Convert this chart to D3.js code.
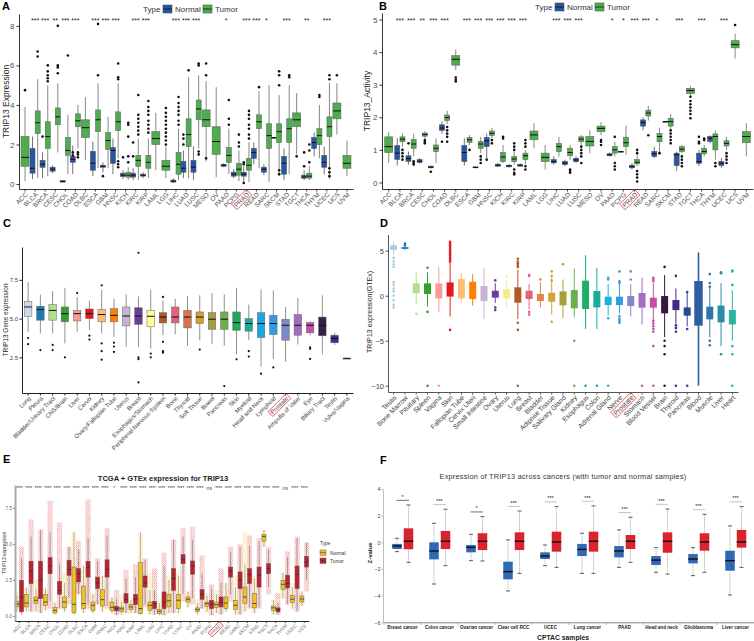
<!DOCTYPE html>
<html lang="en">
<head>
<meta charset="utf-8">
<title>TRIP13 expression panels</title>
<script src="https://d3js.org/d3.v7.min.js"></script>
<style>
body{margin:0;background:#fff;}
</style>
</head>
<body>
<script>
// ---------- data ----------
var tcgaCats = ["ACC","BLCA","BRCA","CESC","CHOL","COAD","DLBC","ESCA","GBM","HNSC","KICH","KIRC","KIRP","LAML","LGG","LIHC","LUAD","LUSC","MESO","OV","PAAD","PCPG","PRAD","READ","SARC","SKCM","STAD","TGCT","THCA","THYM","UCEC","UCS","UVM"];

// panel A: [low whisker, q1, median, q3, high whisker]
var aNormal = [null,[0.25,0.55,0.8,1.8,2.4],[0.3,0.85,1.0,1.2,1.6],[0.55,0.65,0.75,0.85,0.95],[0.08,0.1,0.13,0.17,0.2],[0.5,1.1,1.25,1.4,1.95],null,[0.4,0.7,1.05,1.65,2.15],[0.6,0.85,0.9,0.95,1.1],[0.5,1.05,1.7,1.85,2.3],[0.25,0.38,0.45,0.55,0.7],[0.2,0.35,0.45,0.55,0.8],[0.3,0.4,0.45,0.5,0.6],null,null,[0.05,0.1,0.15,0.2,0.3],[0.3,0.6,0.8,1.15,1.7],[0.2,0.6,0.85,1.2,1.9],null,null,[0.85,0.9,0.95,1.0,1.05],[0.3,0.4,0.5,0.6,0.75],[0.1,0.4,0.5,0.6,0.9],[1.0,1.3,1.6,1.8,2.1],[0.45,0.6,0.75,0.85,1.0],[2.35,2.35,2.35,2.35,2.35],[0.2,0.5,1.05,1.4,1.8],null,[0.2,0.3,0.35,0.45,0.7],[1.4,1.8,2.1,2.35,2.6],[0.5,0.85,1.1,1.45,1.9],null,null];
var aTumor = [[0.15,0.9,1.35,2.4,3.9],[0.3,2.55,3.1,3.7,5.3],[0.4,1.8,2.4,3.15,5.0],[1.6,3.0,3.4,3.85,5.1],[0.5,1.45,1.7,2.35,3.5],[1.8,2.9,3.2,3.55,4.0],[1.2,2.35,2.85,3.25,4.4],[0.8,2.65,3.25,3.75,5.1],[0.8,1.75,2.2,2.6,3.4],[1.3,2.7,3.15,3.65,5.1],[0.2,0.35,0.45,0.6,0.85],[0.2,0.9,1.2,1.45,2.3],[0.3,0.8,1.1,1.45,2.3],[0.7,2.0,2.3,2.65,3.6],[0.3,0.7,0.9,1.2,1.9],[0.2,0.5,1.0,1.6,2.8],[0.3,1.9,2.5,3.3,5.4],[1.8,3.25,3.8,4.25,5.5],[1.15,2.9,3.25,3.75,5.2],[0.35,1.5,2.15,2.9,4.9],[0.5,1.1,1.45,1.85,2.8],[0.15,0.45,0.75,1.05,1.7],[0.1,0.7,0.95,1.3,2.1],[0.8,2.8,3.15,3.5,4.7],[0.1,1.8,2.45,3.05,5.0],[0.4,2.1,2.65,3.05,4.5],[0.5,2.1,2.8,3.3,5.0],[1.5,2.9,3.25,3.6,4.6],[0.2,0.3,0.4,0.55,0.9],[1.3,2.0,2.45,2.8,4.0],[0.25,2.4,2.9,3.4,5.1],[2.5,3.3,3.7,4.1,5.1],[0.4,0.8,1.05,1.45,2.2]];
var aNormalOut = [[],[],[2.4],[],[],[1.45,1.6],[],[],[0.4],[],[1.35],[1.4,2.1],[],[],[],[],[2.0,2.3,2.5],[],[],[],[],[],[0.05,1.0,1.1],[],[],[],[],[],[0.9,1.6],[],[],[],[]];
var aTumorOut = [[4.75],[6.45,6.7],[5.2,5.35,5.5,5.7,6.0],[5.6,5.9,6.0,8.0],[6.5],[1.35,1.5,1.6],[],[5.5,8.1],[],[0.85,1.0,1.15,5.3,5.4,6.1],[1.1,1.4,2.4,3.0,3.1],[2.5,2.7,2.9,3.1,3.3,3.5,4.5],[2.6,2.8,3.0,3.2,3.5,3.7,3.9,4.2],[],[2.0,2.2,2.4,2.6,2.8,3.0,3.2,3.4,3.6,3.85],[3.0,3.2,3.5,3.7,3.9,4.1,4.4],[5.75],[1.5,1.65,6.0,6.1],[1.3,5.5,6.1],[],[3.0,3.3,4.25],[1.9,2.1,2.5],[2.3,2.5,2.8,3.0,3.3,3.5,3.7],[4.9],[],[0.5,0.7,5.0,5.5,5.7],[5.4,5.5],[1.4],[1.1,1.7,2.0],[4.4,4.5],[0.4,0.6,0.8,5.3,5.5],[5.5],[]];
var aSig = ["","***","***","**","***","***","","***","***","***","","***","***","","","***","***","***","","","*","","***","***","*","","***","","**","","***","",""];

// panel B
var bNormal = [null,[0.52,0.71,0.9,1.13,1.36],[0.55,0.65,0.73,0.82,0.95],[0.58,0.62,0.65,0.7,0.75],[0.43,0.45,0.47,0.5,0.52],[1.5,1.6,1.67,1.77,1.87],null,[0.52,0.64,0.92,1.13,1.36],[0.44,0.45,0.46,0.48,0.5],[0.75,1.1,1.28,1.38,1.5],[0.48,0.5,0.53,0.56,0.6],[0.46,0.48,0.51,0.53,0.56],[0.48,0.5,0.53,0.55,0.58],null,null,[0.55,0.6,0.64,0.7,0.8],[0.5,0.55,0.59,0.65,0.7],[0.6,0.64,0.69,0.74,0.8],null,null,[0.8,0.82,0.85,0.88,0.92],[0.95,0.95,0.95,0.95,0.95],[0.4,0.45,0.49,0.53,0.6],[1.6,1.73,1.84,1.92,2.0],[0.75,0.8,0.88,0.95,1.1],[1.87,1.87,1.87,1.87,1.87],[0.35,0.52,0.85,0.9,0.95],null,[0.5,0.59,0.64,0.9,1.0],[1.2,1.26,1.36,1.41,1.45],[0.45,0.52,0.59,0.65,0.75],null,null];
var bTumor = [[0.6,0.92,1.1,1.4,1.56],[1.1,1.25,1.33,1.4,1.5],[0.8,1.05,1.18,1.32,1.5],[1.35,1.42,1.47,1.52,1.57],[0.6,0.95,1.05,1.15,1.35],[1.8,1.9,1.99,2.07,2.2],[3.45,3.6,3.78,3.89,4.08],[1.15,1.23,1.31,1.38,1.45],[0.9,1.05,1.18,1.26,1.4],[1.35,1.44,1.51,1.58,1.68],[0.6,0.64,0.78,0.92,1.15],[0.55,0.64,0.72,0.8,0.95],[0.55,0.7,0.82,0.9,1.0],[1.05,1.31,1.46,1.58,1.82],[0.4,0.64,0.77,0.9,1.15],[0.8,0.95,1.1,1.2,1.4],[0.7,0.82,0.92,1.05,1.15],[1.15,1.25,1.33,1.4,1.45],[0.9,1.12,1.26,1.41,1.6],[1.45,1.56,1.66,1.73,1.85],[0.8,0.9,1.0,1.1,1.25],[0.85,1.1,1.22,1.39,1.75],[0.5,0.57,0.62,0.7,0.85],[1.9,2.04,2.13,2.22,2.35],[0.85,1.25,1.41,1.5,1.68],[1.55,1.73,1.87,1.97,2.1],[0.9,0.95,1.02,1.1,1.15],[2.65,2.73,2.82,2.89,2.97],[0.8,0.88,0.95,1.05,1.15],[0.7,1.0,1.41,1.49,1.6],[1.0,1.12,1.2,1.28,1.4],[3.8,4.13,4.23,4.35,4.57],[0.8,1.22,1.41,1.56,1.82]];
var bNormalOut = [[],[],[1.2],[],[0.33],[1.25],[],[],[],[0.7],[],[],[],[],[],[],[],[],[],[],[],[],[],[],[],[],[],[],[1.2,1.25,1.4],[],[],[],[]];
var bTumorOut = [[],[0.7,0.8,0.9,1.0],[0.55,0.6,0.65],[1.2,1.25,1.3],[],[1.25,1.4,1.5,1.6,1.7],[3.1,3.15,3.22],[1.0],[0.6,0.7,0.8],[1.2,1.3],[1.35,1.4],[0.25,0.3,0.4,1.0,1.1,1.2],[0.4,0.5,1.1,1.2,1.3],[],[],[],[0.3,0.35,0.4],[0.6,0.8,0.9,1.0,1.1],[],[1.15,1.25,1.3],[0.4,0.5,0.6,1.4],[],[0.03,0.15,0.25,0.35,0.9,1.0],[1.45],[0.9],[1.2,1.3,1.4,1.5,1.6],[0.5,0.6,0.7,0.8],[1.97,2.1,2.2,2.3,2.4,2.5,2.63],[1.3,1.35],[0.5,0.6],[0.6,0.7,0.8,0.9],[4.83],[]];
var bSig = ["","***","***","**","***","***","","***","***","***","***","***","***","","","***","***","***","","","*","*","***","***","*","","***","","***","","***","",""];

// panel C (cell lines)
var cCats = ["Lung","Pleura","Bladder/Urinary Tract","CNS/Brain","Liver","Cervix","Kidney","Ovary/Fallopian Tube","Uterus","Breast","Esophagus/Stomach","Peripheral Nervous System","Bone","Thyroid","Soft Tissue","Bowel","Pancreas","Skin","Myeloid","Head and Neck","Lymphoid","Prostate","Ampulla of Vater","Eye","Biliary Tract","Testis","Vulva/Vagina"];
var cStats = [[4.15,5.15,5.75,6.1,7.35],[4.04,4.9,5.58,5.8,6.54],[4.04,4.9,5.53,5.9,6.77],[3.4,4.79,5.32,5.75,6.99],[4.15,4.85,5.32,5.53,6.39],[4.25,5.0,5.32,5.62,6.17],[4.04,4.79,5.26,5.6,6.86],[3.83,4.79,5.21,5.64,6.28],[3.18,4.53,5.17,5.75,6.56],[3.18,4.63,5.17,5.7,6.43],[3.07,4.47,5.15,5.53,6.86],[3.93,4.72,5.1,5.38,6.17],[4.0,4.72,5.1,5.75,6.28],[3.25,4.4,5.1,5.53,6.45],[3.6,4.68,5.1,5.43,6.5],[3.35,4.31,4.96,5.38,6.65],[3.25,4.31,4.96,5.43,6.56],[2.7,4.25,4.74,5.43,6.99],[3.6,4.19,4.68,5.0,5.9],[1.9,3.78,4.68,5.38,6.88],[2.4,3.97,4.68,5.21,6.82],[2.22,3.61,4.57,4.96,5.75],[3.33,3.93,4.57,5.26,6.32],[3.93,4.08,4.57,4.74,4.85],[2.69,3.89,4.57,5.1,6.5],[3.3,3.44,3.72,3.93,4.08],[2.44,2.44,2.44,2.44,2.44]];
var cOut = [[3.75,3.35],[2.97],[3.3,2.97],[2.5],[6.65],[3.9,3.65],[7.15,3.4,2.9,2.35],[3.45,3.2,2.85],[],[9.25,2.5,2.38,0.88],[2.75,2.5],[6.4,3.5,2.9,2.8],[],[],[3.0],[],[0.65],[2.37],[2.9,2.55],[1.45],[1.85],[],[],[3.15,3.05,2.4],[],[],[]];
var cPalette = ["#c6dbef","#1f78b4","#b2df8a","#33a02c","#fb9a99","#e31a1c","#fdbf6f","#ff7f00","#cab2d6","#6a3d9a","#ffff99","#b15928","#e5607a","#d9734a","#d4a03a","#a0a040","#6ab04c","#23a75a","#19ac9b","#1ea7de","#2f9de0","#7e88c9","#a36cc0","#c94ba8","#38204a","#3d2f8a","#3d2f8a"];

// panel D (GTEx)
var dCats = ["Testis","Bone Marrow","Pituitary","Spleen","Vagina","Skin","Fallopian Tube","Cervix Uteri","Small Intestine","Ovary","Uterus","Lung","Breast","Bladder","Adipose Tissue","Salivary Gland","Kidney","Esophagus","Colon","Adrenal Gland","Nerve","Prostate","Stomach","Blood Vessel","Brain","Thyroid","Pancreas","Blood","Muscle","Liver","Heart"];
var dStats = [[4.6,5.1,5.35,5.6,6.0],[5.1,5.2,5.3,5.4,5.5],[-1.0,0.26,0.8,1.37,2.6],[-1.2,0.19,0.9,1.37,2.6],[-1.8,-0.3,0.9,1.37,3.2],[-2.3,-0.1,0.8,1.48,3.7],[-0.8,-0.3,0.9,1.85,2.5],[-1.1,-0.37,0.4,1.55,2.4],[-2.6,-0.6,0.1,1.07,3.1],[-0.8,-0.22,0.2,0.55,1.4],[-1.3,-0.3,0.1,0.7,1.6],[-2.6,-0.78,0.1,0.93,2.9],[-1.5,-0.37,0.1,0.55,1.3],[-1.3,-0.6,-0.1,0.19,1.5],[-2.1,-0.67,-0.1,0.33,2.0],[-2.5,-1.07,-0.1,0.48,1.8],[-2.4,-1.4,-0.2,0.63,3.0],[-3.7,-1.48,-0.2,1.67,4.5],[-3.7,-1.3,-0.2,0.52,3.1],[-2.2,-1.04,-0.5,-0.11,1.3],[-2.0,-1.04,-0.5,-0.11,1.3],[-2.3,-1.15,-0.4,-0.04,1.3],[-3.2,-1.33,-0.5,0.3,2.0],[-3.0,-1.33,-0.6,-0.22,1.4],[-4.6,-1.96,-0.8,-0.04,2.3],[-3.1,-1.6,-1.0,-0.48,0.8],[-3.4,-2.22,-1.7,-1.3,0.3],[-10,-3.33,-0.5,1.63,4.8],[-4.6,-2.63,-1.8,-1.22,1.0],[-5.6,-2.96,-2.0,-1.1,1.4],[-5.0,-3.19,-2.3,-1.59,0.6]];
var dOut = [[4.2,3.8,3.5,3.2,1.5,1.2,0.8,0.5,0.0,-0.5,-1.0,-1.3],[5.6,5.8],[-2.0],[3.1,-1.8,-10],[-10],[3.8,4.0,4.2,4.4,4.6,4.8,5.0,5.2,5.4,5.6,5.8,6.0,-3.8],[],[],[],[1.7,-1.3,-1.6],[2.1],[3.2,3.4,3.6,3.8,4.1,-3.0,-3.8,-10],[2.2,2.3,-1.8,-2.1],[1.8],[2.7,2.2,1.7,-2.9],[3.5],[-5.0,-10],[-10],[-10],[2.0,1.8,-2.5,-10],[2.7,1.6,1.4,-2.3,-2.6,-2.8,-3.0],[2.7,1.8],[-10],[1.6,1.8,2.0,-2.8,-3.1,-3.4,-3.7,-4.0,-5.6,-10],[3.2,-5.0,-5.6,-6.5,-10],[2.2,-3.3,-3.6,-4.0,-10],[0.4,-3.7,-10],[],[2.4,1.4,1.0,-5.0,-5.5],[2.6,2.5,-6.5],[2.8,2.7,1.2,-5.6,-6.5,-10]];
var dPalette = ["#a6cee3","#1f78b4","#b2df8a","#33a02c","#fb9a99","#e31a1c","#fdbf6f","#ff7f00","#cab2d6","#6a3d9a","#f7ec8a","#b15928","#e5607a","#e0854a","#d4a23a","#a3a23a","#6bb04b","#1fae6a","#16ad9d","#1ab2d8","#2f9de0","#7e88c9","#a56cbf","#c84ea0","#35193e","#3c2e86","#2c4696","#2f5f9e","#2f76a8","#2a8caa","#2ab3a2"];

// panel E (TCGA + GTEx)
var eCats = ["ACC","BLCA","BRCA","CESC","CHOL","COAD","DLBC","ESCA","GBM","HNSC","KICH","KIRC","KIRP","LAML","LGG","LIHC","LUAD","LUSC","OV","PAAD","PCPG","PRAD","READ","SARC","SKCM","STAD","TGCT","THCA","THYM","UCEC","UCS"];
var eNormal = [[0.28,0.63,0.83,1.02,1.43],[0.3,0.63,0.9,1.5,2.0],[0.3,0.86,1.09,1.32,1.9],[0.4,0.74,0.97,1.48,1.9],[0.1,0.21,0.39,0.58,0.9],[0.3,0.56,0.97,1.32,2.3],[0.1,0.23,0.81,3.4,5.83],[0.2,0.51,0.86,2.08,3.5],[0.2,0.39,0.74,0.97,1.5],[0.3,0.69,1.13,1.83,2.8],[0.2,0.39,0.6,0.97,1.3],[0.1,0.32,0.49,0.62,1.0],[0.2,0.44,0.63,0.79,1.1],[0.1,0.16,0.51,3.7,5.8],[0.1,0.39,0.74,0.97,1.8],[0.05,0.16,0.32,0.46,0.9],[0.2,0.63,1.06,1.48,2.5],[0.2,0.51,1.09,1.48,2.8],[0.6,0.97,1.16,1.32,1.7],[0.1,0.32,0.44,0.56,0.9],[0.3,0.67,0.86,0.97,1.4],[0.2,0.58,0.79,0.97,1.5],[0.3,0.51,0.9,1.32,2.3],[0.1,0.44,0.74,1.09,2.0],[0.3,0.86,1.32,2.01,3.6],[0.2,0.56,0.86,1.55,2.6],[4.8,5.2,5.53,5.67,6.0],[0.1,0.39,0.56,0.69,1.1],[1.2,1.83,2.2,2.48,3.0],[0.5,0.93,1.16,1.43,2.0],[0.7,0.97,1.18,1.39,1.7]];
var eTumor = [[0.1,0.3,1.3,2.48,4.0],[0.3,2.25,3.12,3.8,5.5],[0.2,1.2,2.48,3.8,6.0],[1.0,2.94,3.47,4.05,5.8],[0.5,1.5,1.78,2.4,3.6],[1.3,2.82,3.22,3.87,4.8],[1.5,2.36,2.94,3.29,4.6],[0.8,2.7,3.4,3.8,5.4],[0.8,1.9,2.31,2.7,3.8],[0.7,2.7,3.24,3.9,5.6],[0.05,0.35,0.51,0.67,1.2],[0.2,0.9,1.16,1.55,2.6],[0.2,0.79,1.16,1.5,2.7],[0.8,2.0,2.31,2.78,3.9],[0.1,0.51,0.86,1.02,1.8],[0.05,0.51,0.97,1.67,3.5],[0.2,1.78,2.6,3.29,5.3],[1.5,3.63,3.91,4.26,5.5],[1.2,2.9,3.47,3.82,5.3],[0.5,1.16,1.5,1.83,2.9],[0.05,0.51,0.81,1.09,1.9],[0.1,0.63,0.97,1.32,2.3],[1.5,2.7,3.12,3.4,4.4],[0.1,1.9,2.48,3.06,4.8],[0.6,2.25,2.87,3.29,4.9],[0.6,2.01,2.82,3.4,5.2],[2.0,2.94,3.29,3.63,4.6],[0.1,0.28,0.44,0.56,0.9],[0.8,1.94,2.25,2.82,4.1],[0.3,1.9,2.89,3.47,5.4],[2.5,3.4,3.75,4.14,5.1]];
// extent of the jittered sample points [min, max]
var eNormalPts = [[0.4,1.7],[0.4,1.9],[0.3,2.6],[0.4,1.9],[0.1,1.0],[0.3,3.0],[0.1,5.8],[0.2,3.5],[0.2,1.6],[0.3,2.8],[0.2,1.3],[0.1,1.5],[0.2,1.3],[0.1,5.8],[0.1,3.0],[0.05,1.2],[0.2,2.8],[0.2,3.0],[0.6,1.7],[0.1,1.2],[0.2,1.6],[0.2,1.8],[0.3,2.3],[0.1,2.8],[0.3,5.9],[0.2,2.8],[4.8,6.0],[0.1,1.2],[1.2,3.0],[0.5,2.3],[0.7,1.7]];
var eTumorPts = [[0.2,4.8],[0.3,6.7],[0.2,6.0],[0.5,8.0],[0.5,6.5],[0.8,4.8],[1.5,5.2],[0.5,8.1],[0.8,4.0],[0.5,6.1],[0.05,1.8],[0.2,3.2],[0.2,3.6],[0.6,4.0],[0.1,3.3],[0.05,4.4],[0.2,5.3],[1.0,6.1],[0.8,6.2],[0.5,4.2],[0.05,2.2],[0.1,3.3],[1.0,4.8],[0.1,5.0],[0.5,5.6],[0.5,5.4],[1.5,4.8],[0.1,1.6],[0.8,4.5],[0.3,5.5],[1.7,5.1]];
var eSig = ["****","****","****","****","****","****","****","****","****","****","*","****","****","****","****","****","****","****","****","****","ns","****","****","****","****","****","****","****","ns","****","****"];

// panel F (CPTAC)
var fCats = ["Breast cancer","Colon cancer","Ovarian cancer","Clear cell RCC","UCEC","Lung cancer","PAAD","Head and neck","Glioblastoma","Liver cancer"];
var fNormal = [[-0.7,-0.5,-0.28,-0.12,0.3],[-3.13,-1.28,-0.65,0.0,1.43],[-1.38,-0.75,-0.38,-0.2,0.6],[-3.65,-2.78,-2.2,-1.45,0.18],[-1.75,-1.25,-1.03,-0.75,-0.2],[-2.33,-1.03,-0.53,-0.12,0.68],[-1.88,-1.13,-0.65,-0.28,0.93],[-2.25,-1.7,-1.33,-1.03,-0.4],[-2.5,-1.58,-1.25,-0.88,-0.4],[-3.95,-2.13,-1.38,-0.63,1.23]];
var fTumor = [[-1.5,-0.52,0.08,1.05,2.8],[-1.75,-0.5,0.08,0.85,2.48],[-1.4,-0.58,0.08,0.68,1.93],[-2.33,-0.58,0.08,0.75,2.35],[-1.88,-0.7,0.03,0.8,2.68],[-2.33,-0.7,0.08,0.8,2.73],[-1.5,-0.5,0.08,0.55,1.88],[-2.38,-0.78,0.08,0.75,2.5],[-2.25,-0.63,0.03,0.68,2.1],[-1.88,-0.4,0.03,0.93,2.68]];
var fSig = ["*","***","*","***","***","***","***","***","***","***"];

// ---------- drawing ----------
var FONT = "Liberation Sans, Arial, Helvetica, sans-serif";
var svg = d3.select("body").append("svg")
	.attr("width", 754).attr("height", 641)
	.attr("font-family", FONT);
var defs = svg.append("defs");

function panelLetter(x, y, t) {
	svg.append("text").attr("x", x).attr("y", y)
		.attr("font-size", 11).attr("font-weight", "bold").text(t);
}

function styleAxis(g, fs, col, lineCol) {
	g.attr("font-family", FONT).attr("font-size", fs);
	g.selectAll("text").attr("fill", col);
	g.selectAll("line").attr("stroke", lineCol);
	g.select(".domain").attr("stroke", lineCol);
}

// rotate tick labels and draw a red frame round one of them
function rotLabels(g, hl) {
	g.selectAll(".tick text")
		.attr("text-anchor", "end")
		.attr("x", -2).attr("y", 2).attr("dy", "0.7em")
		.attr("transform", "rotate(-45)");
	if (hl) {
		g.selectAll(".tick").filter(function(d) { return d === hl; }).each(function() {
			var b = d3.select(this).select("text").node().getBBox();
			d3.select(this).insert("rect", "text")
				.attr("x", b.x - 1.2).attr("y", b.y - 0.4)
				.attr("width", b.width + 2.4).attr("height", b.height + 0.8)
				.attr("fill", "none").attr("stroke", "#e8383d").attr("stroke-width", 0.8)
				.attr("transform", "rotate(-45)");
		});
	}
}

function drawBox(g, cx, w, s, y, st) {
	if (!s) return;
	g.append("line")
		.attr("x1", cx).attr("x2", cx).attr("y1", y(s[0])).attr("y2", y(s[4]))
		.attr("stroke", st.whisker).attr("stroke-width", st.ww || 0.7)
		.attr("stroke-dasharray", st.dash || null);
	if (st.cap) {
		[s[0], s[4]].forEach(function(v) {
			g.append("line").attr("x1", cx - st.cap / 2).attr("x2", cx + st.cap / 2)
				.attr("y1", y(v)).attr("y2", y(v)).attr("stroke", "#333").attr("stroke-width", 0.8);
		});
	}
	g.append("rect")
		.attr("x", cx - w / 2).attr("y", y(s[3]))
		.attr("width", w).attr("height", Math.max(0.8, y(s[1]) - y(s[3])))
		.attr("fill", st.fill).attr("stroke", st.stroke || "none").attr("stroke-width", st.sw || 0.6);
	if (st.median) {
		g.append("line").attr("x1", cx - w / 2).attr("x2", cx + w / 2)
			.attr("y1", y(s[2])).attr("y2", y(s[2]))
			.attr("stroke", st.median).attr("stroke-width", st.mw || 1);
	}
}

function drawOut(g, cx, vals, y, col, r) {
	vals.forEach(function(v) {
		g.append("circle").attr("cx", cx).attr("cy", y(v)).attr("r", r).attr("fill", col);
	});
}

function legendType(x, y) {
	var g = svg.append("g").attr("transform", "translate(" + x + "," + y + ")").attr("font-size", 8);
	g.append("text").attr("x", 0).attr("y", 3).attr("fill", "#333").text("Type");
	[["Normal", "#2356a6", 20], ["Tumor", "#4cae4c", 60]].forEach(function(d) {
		g.append("rect").attr("x", d[2]).attr("y", -4).attr("width", 9).attr("height", 8)
			.attr("fill", d[1]).attr("stroke", "#555").attr("stroke-width", 0.6);
		g.append("line").attr("x1", d[2]).attr("x2", d[2] + 9).attr("y1", 0).attr("y2", 0)
			.attr("stroke", "#111").attr("stroke-width", 0.8);
		g.append("text").attr("x", d[2] + 12).attr("y", 3).attr("fill", "#333").text(d[0]);
	});
}

// ----- A and B : TCGA paired boxplots -----
function tcgaPanel(x0, x1, yScale, yTicks, nArr, tArr, nOut, tOut, sig, ylab, ylabX) {
	var g = svg.append("g");
	var x = d3.scaleBand().domain(tcgaCats).range([x0, x1]).paddingOuter(0.1).paddingInner(0);
	var yBot = yScale.range()[0];

	var ax = g.append("g").attr("transform", "translate(0," + yBot + ")")
		.call(d3.axisBottom(x).tickSize(2.5).tickSizeOuter(0));
	styleAxis(ax, 6.5, "#4d4d4d", "#333");
	rotLabels(ax, "PRAD");

	var ay = g.append("g").attr("transform", "translate(" + x0 + ",0)")
		.call(d3.axisLeft(yScale).tickValues(yTicks).tickFormat(d3.format("d")).tickSize(2.5).tickSizeOuter(0).tickPadding(2));
	styleAxis(ay, 8, "#4d4d4d", "#333");

	g.append("text").attr("transform", "translate(" + ylabX + "," + ((yBot + yScale.range()[1]) / 2) + ") rotate(-90)")
		.attr("text-anchor", "middle").attr("font-size", 8.5).attr("fill", "#222").text(ylab);

	var nSt = {fill: "#2356a6", stroke: "#555", whisker: "#333", median: "#111", mw: 1};
	var tSt = {fill: "#4cae4c", stroke: "#666", whisker: "#555", median: "#111", mw: 1};
	tcgaCats.forEach(function(c, i) {
		var cx = x(c) + x.bandwidth() / 2;
		if (nArr[i]) {
			drawBox(g, cx - 2.6, 5, nArr[i], yScale, nSt);
			drawOut(g, cx - 2.6, nOut[i], yScale, "#111", 1.3);
			drawBox(g, cx + 2.6, 5, tArr[i], yScale, tSt);
			drawOut(g, cx + 2.6, tOut[i], yScale, "#111", 1.3);
		} else {
			drawBox(g, cx, 8, tArr[i], yScale, tSt);
			drawOut(g, cx, tOut[i], yScale, "#111", 1.3);
		}
		if (sig[i]) {
			g.append("text").attr("x", cx).attr("y", 23).attr("text-anchor", "middle")
				.attr("font-size", 7).attr("fill", "#222").text(sig[i]);
		}
	});
}

tcgaPanel(19, 353, d3.scaleLinear().domain([-0.25, 8.6]).range([189, 14]), [0, 2, 4, 6, 8],
	aNormal, aTumor, aNormalOut, aTumorOut, aSig, "TRIP13 Expression", 9);
tcgaPanel(382, 753, d3.scaleLinear().domain([-0.2, 5.2]).range([189, 13]), [0, 1, 2, 3, 4, 5],
	bNormal, bTumor, bNormalOut, bTumorOut, bSig, "TRIP13_Activity", 370);
legendType(143, 9);
legendType(535, 7);
panelLetter(2, 10, "A");
panelLetter(379, 10, "B");

// ----- C : cell lines -----
(function() {
	var g = svg.append("g");
	var x = d3.scaleBand().domain(cCats).range([22, 353]).padding(0);
	var y = d3.scaleLinear().domain([0.2, 9.62]).range([393, 247]);
	var ax = g.append("g").attr("transform", "translate(0,393)")
		.call(d3.axisBottom(x).tickSize(2.5).tickSizeOuter(0));
	styleAxis(ax, 6, "#444", "#222");
	rotLabels(ax, "Prostate");
	var ay = g.append("g").attr("transform", "translate(22,0)")
		.call(d3.axisLeft(y).tickValues([2.5, 5.0, 7.5]).tickFormat(d3.format(".1f")).tickSize(2.5).tickSizeOuter(0).tickPadding(1.5));
	styleAxis(ay, 6, "#444", "#222");
	g.append("text").attr("transform", "translate(8,320) rotate(-90)")
		.attr("text-anchor", "middle").attr("font-size", 6.5).attr("fill", "#222").text("TRIP13 Gene expression");
	cCats.forEach(function(c, i) {
		var cx = x(c) + x.bandwidth() / 2;
		drawBox(g, cx, 7.5, cStats[i], y, {fill: cPalette[i], stroke: "#666", sw: 0.5, whisker: "#444", ww: 0.6, median: "#111", mw: 1});
		drawOut(g, cx, cOut[i], y, "#111", 1.1);
	});
	panelLetter(3, 227, "C");
})();

// ----- D : GTEx normal tissues -----
(function() {
	var g = svg.append("g");
	var x = d3.scaleBand().domain(dCats).range([388, 738]).padding(0);
	var y = d3.scaleLinear().domain([-10.7, 6.8]).range([392, 234.5]);
	var ax = g.append("g").attr("transform", "translate(0,392)")
		.call(d3.axisBottom(x).tickSize(2.5).tickSizeOuter(0));
	styleAxis(ax, 6.8, "#444", "#555");
	rotLabels(ax, "Prostate");
	var ay = g.append("g").attr("transform", "translate(388,0)")
		.call(d3.axisLeft(y).tickValues([5, 0, -5, -10]).tickSize(2.5).tickSizeOuter(0).tickPadding(1.5));
	styleAxis(ay, 7.5, "#444", "#555");
	g.append("text").attr("transform", "translate(372,312) rotate(-90)")
		.attr("text-anchor", "middle").attr("font-size", 7).attr("fill", "#222").text("TRIP13 expression(GTEx)");
	dCats.forEach(function(c, i) {
		var cx = x(c) + x.bandwidth() / 2;
		var w = c === "Blood" ? 8.5 : 7;
		drawBox(g, cx, w, dStats[i], y, {fill: dPalette[i], whisker: dPalette[i], ww: c === "Blood" ? 1.6 : 1});
		drawOut(g, cx, dOut[i], y, dPalette[i], 1.3);
	});
	panelLetter(380, 227, "D");
})();

// ----- E : TCGA + GTEx -----
(function() {
	var g = svg.append("g");
	function dots(id, col) {
		var p = defs.append("pattern").attr("id", id).attr("patternUnits", "userSpaceOnUse")
			.attr("width", 2.2).attr("height", 2.2);
		p.append("circle").attr("cx", 0.5).attr("cy", 0.5).attr("r", 0.45).attr("fill", col);
		p.append("circle").attr("cx", 1.6).attr("cy", 1.6).attr("r", 0.45).attr("fill", col);
	}
	dots("dotN", "#f3c623");
	dots("dotT", "#d7262e");
	var x = d3.scaleBand().domain(eCats).range([14.5, 309]).padding(0);
	var y = d3.scaleLinear().domain([-0.35, 9.1]).range([621, 485]);

	g.append("text").attr("x", 163).attr("y", 481).attr("text-anchor", "middle")
		.attr("font-size", 7.5).attr("font-weight", "bold").attr("fill", "#222")
		.text("TCGA + GTEx expression for TRIP13");

	eCats.forEach(function(c, i) {
		var cx = x(c) + x.bandwidth() / 2;
		[[cx - 2.3, eNormalPts[i], "url(#dotN)"], [cx + 2.3, eTumorPts[i], "url(#dotT)"]].forEach(function(p) {
			g.append("rect").attr("x", p[0] - 2.6).attr("y", y(p[1][1])).attr("width", 5.2)
				.attr("height", y(p[1][0]) - y(p[1][1])).attr("fill", p[2]).attr("opacity", 0.75);
		});
	});
	eCats.forEach(function(c, i) {
		var cx = x(c) + x.bandwidth() / 2;
		drawBox(g, cx - 2.3, 4, eNormal[i], y, {fill: "#f2c318", stroke: "#666", sw: 0.5, whisker: "#666", ww: 0.5, median: "#2a2f5a", mw: 0.8});
		drawBox(g, cx + 2.3, 4, eTumor[i], y, {fill: "#c41e2b", stroke: "#555", sw: 0.5, whisker: "#555", ww: 0.5, median: "#2a2f5a", mw: 0.8});
		g.append("text").attr("x", cx).attr("y", 490).attr("text-anchor", "middle")
			.attr("font-size", eSig[i] === "ns" ? 5 : 4.5).attr("fill", "#333").text(eSig[i]);
	});

	var ax = g.append("g").attr("transform", "translate(0,621)")
		.call(d3.axisBottom(x).tickSize(2).tickSizeOuter(0));
	styleAxis(ax, 4.6, "#666", "#333");
	rotLabels(ax, "PRAD");
	var ay = g.append("g").attr("transform", "translate(15,0)")
		.call(d3.axisLeft(y).tickValues([0, 2.5, 5, 7.5]).tickFormat(d3.format(".1f")).tickSize(2).tickSizeOuter(0).tickPadding(1));
	styleAxis(ay, 4.6, "#666", "#999");
	ay.select(".domain").attr("stroke", "#aaa").attr("stroke-width", 2);
	g.append("text").attr("transform", "translate(6,553) rotate(-90)")
		.attr("text-anchor", "middle").attr("font-size", 5).attr("fill", "#333").text("TRIP13 expression");

	var lg = g.append("g").attr("font-size", 4.8).attr("fill", "#333");
	lg.append("text").attr("x", 320).attr("y", 545).text("Type");
	[["Normal", "#f2c318", 550], ["Tumor", "#c41e2b", 558]].forEach(function(d) {
		lg.append("rect").attr("x", 320).attr("y", d[2]).attr("width", 6).attr("height", 5.5)
			.attr("fill", d[1]).attr("stroke", "#666").attr("stroke-width", 0.5);
		lg.append("line").attr("x1", 320).attr("x2", 326).attr("y1", d[2] + 2.75).attr("y2", d[2] + 2.75)
			.attr("stroke", "#2a2f5a").attr("stroke-width", 0.6);
		lg.append("text").attr("x", 330).attr("y", d[2] + 4.5).text(d[0]);
	});
	panelLetter(3, 463, "E");
})();

// ----- F : CPTAC -----
(function() {
	var g = svg.append("g");
	var x = d3.scaleBand().domain(fCats).range([384, 754]).padding(0);
	var y = d3.scaleLinear().domain([-6, 4]).range([622.3, 489]);

	g.append("text").attr("x", 563).attr("y", 479).attr("text-anchor", "middle")
		.attr("font-size", 7.3).attr("letter-spacing", 0.25).attr("fill", "#333")
		.text("Expression of TRIP13 across cancers (with tumor and normal samples)");

	var ay = g.append("g").attr("transform", "translate(383,0)")
		.call(d3.axisLeft(y).tickValues([-6, -4, -2, 0, 2, 4]).tickSize(1.5).tickSizeOuter(0).tickPadding(1));
	styleAxis(ay, 5.5, "#444", "#bbb");

	var ax = g.append("g").attr("transform", "translate(0,622.3)")
		.call(d3.axisBottom(x).tickSize(0).tickPadding(3.5));
	styleAxis(ax, 4.6, "#222", "#888");
	ax.selectAll("text").attr("font-weight", "bold");
	fCats.forEach(function(c) {
		g.append("line").attr("x1", x(c)).attr("x2", x(c)).attr("y1", 622.3).attr("y2", 625)
			.attr("stroke", "#888").attr("stroke-width", 0.6);
	});

	g.append("text").attr("x", 563).attr("y", 640).attr("text-anchor", "middle")
		.attr("font-size", 6.8).attr("font-weight", "bold").attr("fill", "#222").text("CPTAC samples");
	g.append("text").attr("transform", "translate(372,553) rotate(-90)")
		.attr("text-anchor", "middle").attr("font-size", 6).attr("font-weight", "bold").attr("fill", "#222").text("Z-value");

	fCats.forEach(function(c, i) {
		var cx = x(c) + x.bandwidth() / 2;
		drawBox(g, cx - 5.5, 9.5, fNormal[i], y, {fill: "#2f69b3", whisker: "#999", ww: 0.7, dash: "1.2,0.8", cap: 4, median: "#111", mw: 1.4});
		drawBox(g, cx + 6, 9.5, fTumor[i], y, {fill: "#d9232e", whisker: "#999", ww: 0.7, dash: "1.2,0.8", cap: 4, median: "#111", mw: 1.4});
		var sy = y(Math.max(fNormal[i][4], fTumor[i][4]) + 0.35);
		g.append("line").attr("x1", cx - 6).attr("x2", cx + 6.5).attr("y1", sy).attr("y2", sy)
			.attr("stroke", fSig[i] === "*" ? "#333" : "#aaa").attr("stroke-width", 0.7);
		g.append("text").attr("x", cx).attr("y", sy - 1.5).attr("text-anchor", "middle")
			.attr("font-size", 5.5).attr("fill", "#222").text(fSig[i]);
	});
	panelLetter(380, 464, "F");
})();
</script>
</body>
</html>
